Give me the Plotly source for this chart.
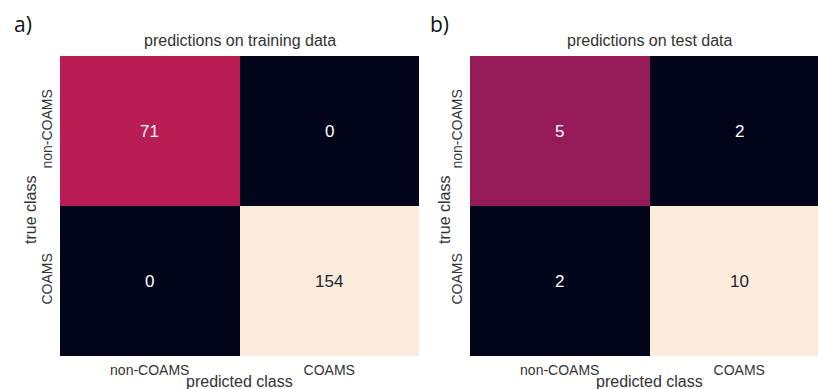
import plotly.graph_objects as go

# Confusion matrices (rows = true class, columns = predicted class)
classes = ["non-COAMS", "COAMS"]
train_counts = [[71, 0],
                [0, 154]]
test_counts = [[5, 2],
               [2, 10]]

panel_titles = ["predictions on training data", "predictions on test data"]
panel_tags = ["a)", "b)"]

# seaborn "rocket" colormap
rocket = [
    [0.0, "#03051A"],
    [0.143, "#35193E"],
    [0.286, "#701F57"],
    [0.429, "#AD1759"],
    [0.571, "#E13342"],
    [0.714, "#F37651"],
    [0.857, "#F6B48F"],
    [1.0, "#FAEBDD"],
]

W, H = 818, 389
top_px, bot_px = 56, 356
ydom = [1 - bot_px / H, 1 - top_px / H]
x1dom = [60 / W, 419 / W]
x2dom = [470 / W, 1.0]
cell_w = (419 - 60) / 2
x2_right = -0.5 + (W - 470) / cell_w

fig = go.Figure()
label_font = dict(family="Liberation Sans, Arial, sans-serif", size=14, color="#333333")

for i, (z, xa, ya) in enumerate([(train_counts, "x", "y"), (test_counts, "x2", "y2")]):
    flat = [v for row in z for v in row]
    zmin, zmax = min(flat), max(flat)
    fig.add_trace(go.Heatmap(
        z=z, x=[0, 1], y=[0, 1], xaxis=xa, yaxis=ya,
        colorscale=rocket, zmin=zmin, zmax=zmax, showscale=False,
        hoverinfo="z",
    ))
    for r in range(2):
        for c in range(2):
            v = z[r][c]
            frac = (v - zmin) / (zmax - zmin)
            fig.add_annotation(
                x=c, y=r, xref=xa, yref=ya, text=str(v), showarrow=False,
                font=dict(family="Liberation Sans, Arial, sans-serif", size=17,
                          color="#262626" if frac > 0.6 else "#FFFFFF"),
            )

axis_common = dict(tickvals=[0, 1], ticktext=classes, ticks="", showgrid=False,
                   zeroline=False, showline=False, tickfont=label_font)
fig.update_layout(
    xaxis=dict(domain=x1dom, range=[-0.5, 1.5], anchor="y", ticklabelstandoff=4, **axis_common),
    yaxis=dict(domain=ydom, range=[1.5, -0.5], anchor="x", tickangle=-90, ticklabelstandoff=4, **axis_common),
    xaxis2=dict(domain=x2dom, range=[-0.5, x2_right], anchor="y2", ticklabelstandoff=4, **axis_common),
    yaxis2=dict(domain=ydom, range=[1.5, -0.5], anchor="x2", tickangle=-90, ticklabelstandoff=4, **axis_common),
    width=W, height=H, margin=dict(l=0, r=0, t=0, b=0),
    paper_bgcolor="white", plot_bgcolor="white",
)

title_font = dict(family="Liberation Sans, Arial, sans-serif", size=16, color="#333333")
centers = [(x1dom[0] + x1dom[1]) / 2, x2dom[0] + cell_w / W]
tag_x = [12 / W, 428 / W]
ytitle_x = [30 / W, 444 / W]
for i in range(2):
    fig.add_annotation(x=centers[i], y=1 - 40 / H, xref="paper", yref="paper",
                       text=panel_titles[i], showarrow=False, font=title_font,
                       xanchor="center", yanchor="middle")
    fig.add_annotation(x=tag_x[i], y=1 - 24 / H, xref="paper", yref="paper",
                       text=panel_tags[i], showarrow=False,
                       font=dict(family="Open Sans, sans-serif", size=21, color="#111111"),
                       xanchor="left", yanchor="middle")
    fig.add_annotation(x=centers[i], y=1 - 381 / H, xref="paper", yref="paper",
                       text="predicted class", showarrow=False, font=title_font,
                       xanchor="center", yanchor="middle")
    fig.add_annotation(x=ytitle_x[i], y=1 - 210 / H, xref="paper", yref="paper",
                       text="true class", showarrow=False, font=title_font, textangle=-90,
                       xanchor="center", yanchor="middle")

fig.write_html("out.html")
